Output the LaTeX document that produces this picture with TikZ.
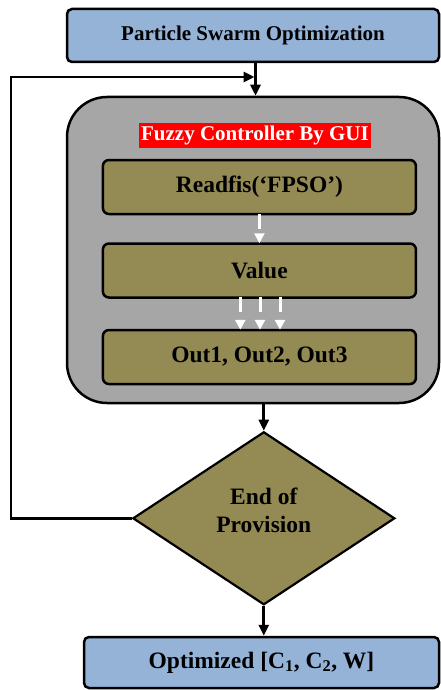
\documentclass[tikz,border=0pt]{standalone}
\usepackage{fontspec}
\setmainfont{Liberation Serif}
\usetikzlibrary{arrows.meta,shapes.geometric}
\definecolor{psoblue}{RGB}{149,179,215}
\definecolor{olivebox}{RGB}{148,138,84}
\definecolor{graybox}{RGB}{166,166,166}
\tikzset{
  bluebox/.style={draw=black, line width=2.5pt, fill=psoblue, rounded corners=5pt, font=\bfseries\fontsize{23.5}{28}\selectfont, align=center, inner sep=0pt},
  olivestep/.style={draw=black, line width=2.5pt, fill=olivebox, rounded corners=6pt, minimum width=313pt, minimum height=54pt, font=\bfseries\fontsize{23.5}{28}\selectfont, inner sep=0pt},
  outerbox/.style={draw=black, line width=2.5pt, fill=graybox, rounded corners=40pt, minimum width=372pt, minimum height=306pt, inner sep=0pt},
  banner/.style={fill=red, text=white, font=\bfseries\fontsize{21}{25}\selectfont, inner sep=0pt, minimum width=232pt, minimum height=25pt},
  decision/.style={diamond, draw=black, line width=2.2pt, fill=olivebox, inner sep=0pt, minimum width=262pt, minimum height=173pt},
  decisiontext/.style={font=\bfseries\fontsize{23.5}{28}\selectfont, align=center, inner sep=0pt},
  flow/.style={draw=black, line width=2.8pt, -{Triangle[length=11pt,width=10pt]}},
  whiteflow/.style={draw=white, line width=3pt, dash pattern=on 15pt off 10pt, -{Triangle[length=10pt,width=10pt]}}
}
\begin{document}
\begin{tikzpicture}[x=1pt,y=-1pt]
\useasboundingbox (0,0) rectangle (440,690);
\node[bluebox, minimum width=372pt, minimum height=53pt, font=\bfseries\fontsize{21}{25}\selectfont] (pso) at (253,35.5) {Particle Swarm Optimization};
\node[outerbox] (fuzzy) at (253,250) {};
\node[banner] (gui) at (255,135.5) {Fuzzy Controller By GUI};
\node[olivestep] (read) at (259.4,187) {Readfis(‘FPSO’)};
\node[olivestep] (val) at (259.4,270.5) {Value};
\node[olivestep] (outs) at (259.4,357) {Out1, Out2, Out3};
\node[decision] (dia) at (263.8,518.3) {};
\node[decisiontext] (diatext) at (263.8,510.5) {End of\\Provision};
\node[bluebox, minimum width=355pt, minimum height=51pt] (opt) at (261.5,662.5) {Optimized [C\textsubscript{1}, C\textsubscript{2}, W]};
\coordinate (topx) at (255.5,0);
\coordinate (cornerbot) at (11,518.3);
\coordinate (cornertop) at (11,77);
\coordinate (loopin) at (254.5,77);
\coordinate (a1) at (240.3,0);
\coordinate (a2) at (260,0);
\coordinate (a3) at (280,0);
\draw[flow] (pso.south -| topx) -- (fuzzy.north -| topx);
\draw[flow] (dia.west) -- (cornerbot) -- (cornertop) -- (loopin);
\draw[flow] (fuzzy.south -| dia.north) -- (dia.north);
\draw[flow] (dia.south) -- (dia.south |- opt.north);
\draw[whiteflow] ([yshift=1.5pt]read.south) -- ([yshift=-1pt]val.north);
\draw[whiteflow] ([yshift=1.5pt]val.south -| a1) -- ([yshift=-1pt]outs.north -| a1);
\draw[whiteflow] ([yshift=1.5pt]val.south -| a2) -- ([yshift=-1pt]outs.north -| a2);
\draw[whiteflow] ([yshift=1.5pt]val.south -| a3) -- ([yshift=-1pt]outs.north -| a3);
\end{tikzpicture}
\end{document}
